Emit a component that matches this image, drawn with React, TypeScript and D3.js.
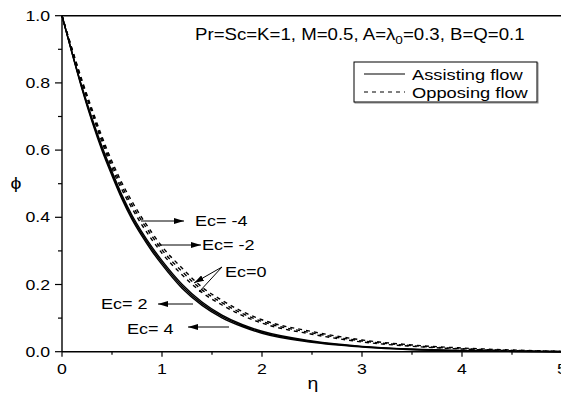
import React from "react";
import * as d3 from "d3";

// similarity variable grid
const eta = [0, 0.1, 0.2, 0.3, 0.4, 0.5, 0.6, 0.7, 0.8, 0.9, 1.0, 1.2, 1.4, 1.6, 1.8, 2.0, 2.5, 3.0, 3.5, 4.0, 4.5, 5.0];

// assisting flow (solid)
const assistEc0 = [1, 0.891, 0.788, 0.695, 0.611, 0.536, 0.466, 0.406, 0.356, 0.311, 0.271, 0.201, 0.148, 0.109, 0.081, 0.061, 0.032, 0.016, 0.008, 0.0035, 0.0012, 0];
const assistEc2 = [1, 0.89, 0.785, 0.69, 0.605, 0.53, 0.46, 0.4, 0.35, 0.305, 0.265, 0.195, 0.143, 0.105, 0.078, 0.058, 0.03, 0.015, 0.007, 0.003, 0.001, 0];
const assistEc4 = [1, 0.889, 0.782, 0.685, 0.599, 0.524, 0.454, 0.394, 0.344, 0.299, 0.259, 0.189, 0.138, 0.101, 0.075, 0.055, 0.028, 0.014, 0.006, 0.0025, 0.0008, 0];

// opposing flow (dashed)
const opposeEc0 = [1, 0.898, 0.8, 0.71, 0.624, 0.546, 0.482, 0.427, 0.377, 0.333, 0.293, 0.229, 0.176, 0.139, 0.108, 0.085, 0.052, 0.029, 0.016, 0.008, 0.003, 0.001];
const opposeEcM2 = [1, 0.9, 0.804, 0.716, 0.632, 0.556, 0.492, 0.437, 0.388, 0.344, 0.303, 0.239, 0.184, 0.146, 0.114, 0.09, 0.056, 0.032, 0.018, 0.009, 0.004, 0.001];
const opposeEcM4 = [1, 0.902, 0.808, 0.722, 0.64, 0.566, 0.502, 0.447, 0.398, 0.354, 0.313, 0.249, 0.192, 0.153, 0.12, 0.095, 0.06, 0.035, 0.02, 0.011, 0.005, 0.0015];

const xTicks = [0, 1, 2, 3, 4, 5];
const xMinor = [0.5, 1.5, 2.5, 3.5, 4.5];
const yTicks = [0, 0.2, 0.4, 0.6, 0.8, 1.0];
const yMinor = [0.1, 0.3, 0.5, 0.7, 0.9];

const W = 561;
const H = 396;
const FONT = "'Liberation Sans', Arial, sans-serif";

export default function App() {
  const x = d3.scaleLinear().domain([0, 5]).range([62, 562]);
  const y = d3.scaleLinear().domain([0, 1]).range([351.7, 15.7]);

  const line = d3
    .line<number>()
    .x((_, i) => x(eta[i]))
    .y((d) => y(d))
    .curve(d3.curveMonotoneX);

  const solid = [assistEc0, assistEc2, assistEc4];
  const dashed = [opposeEc0, opposeEcM2, opposeEcM4];

  const sx = 1.18; // horizontal stretch of the lettering

  const label = (tx: number, ty: number, content: React.ReactNode, size = 15, anchor: "start" | "end" | "middle" = "start") => (
    <g transform={`translate(${tx},${ty}) scale(${sx},1)`}>
      <text x={0} y={0} fontSize={size} fontFamily={FONT} textAnchor={anchor} fill="#000">
        {content}
      </text>
    </g>
  );

  return (
    <svg width={W} height={H} style={{ position: "absolute", left: 0, top: 0, background: "#fff" }}>
      <defs>
        <marker id="ah" viewBox="0 0 10 6" refX="10" refY="3" markerWidth="10" markerHeight="6" markerUnits="userSpaceOnUse" orient="auto">
          <path d="M0,0 L10,3 L0,6 Z" fill="#000" />
        </marker>
      </defs>
      <rect x={0} y={0} width={W} height={H} fill="#fff" />

      {/* curves */}
      {solid.map((s, i) => (
        <path key={`s${i}`} d={line(s) || ""} fill="none" stroke="#000" strokeWidth={1.4} />
      ))}
      {dashed.map((s, i) => (
        <path key={`d${i}`} d={line(s) || ""} fill="none" stroke="#000" strokeWidth={1.4} strokeDasharray="4,4" />
      ))}

      {/* frame */}
      <line x1={x(0)} x2={W} y1={y(1)} y2={y(1)} stroke="#000" strokeWidth={1.4} />
      <line x1={x(0)} x2={W} y1={y(0)} y2={y(0)} stroke="#000" strokeWidth={1.4} />
      <line x1={x(0)} x2={x(0)} y1={y(1)} y2={y(0)} stroke="#000" strokeWidth={1.4} />

      {/* y ticks */}
      {yTicks.map((t) => (
        <g key={`yt${t}`}>
          <line x1={x(0) - 7} x2={x(0)} y1={y(t)} y2={y(t)} stroke="#000" strokeWidth={1.2} />
          {label(50, y(t) + 5, t.toFixed(1), 15, "end")}
        </g>
      ))}
      {yMinor.map((t) => (
        <line key={`ym${t}`} x1={x(0) - 4} x2={x(0)} y1={y(t)} y2={y(t)} stroke="#000" strokeWidth={1.2} />
      ))}

      {/* x ticks */}
      {xTicks.map((t) => (
        <g key={`xt${t}`}>
          <line x1={x(t)} x2={x(t)} y1={y(0)} y2={y(0) + 5} stroke="#000" strokeWidth={1.2} />
          {label(x(t), 374, String(t), 15, "middle")}
        </g>
      ))}
      {xMinor.map((t) => (
        <line key={`xm${t}`} x1={x(t)} x2={x(t)} y1={y(0)} y2={y(0) + 3} stroke="#000" strokeWidth={1.2} />
      ))}

      {/* axis titles */}
      {label(313, 389, "η", 16.5, "middle")}
      {label(16, 189, "ϕ", 16.5, "middle")}

      {/* parameters */}
      {label(195, 40, (
        <>
          Pr=Sc=K=1, M=0.5, A=λ<tspan fontSize={11.5} dy={4}>0</tspan>
          <tspan dy={-4}>=0.3, B=Q=0.1</tspan>
        </>
      ), 15.8)}

      {/* legend */}
      <rect x={355} y={63} width={183} height={40} fill="none" stroke="#888" strokeWidth={1} />
      <rect x={354} y={62} width={183} height={40} fill="#fff" stroke="#000" strokeWidth={1} />
      <line x1={364} x2={405} y1={74} y2={74} stroke="#000" strokeWidth={1.2} />
      <line x1={364} x2={405} y1={92} y2={92} stroke="#000" strokeWidth={1.2} strokeDasharray="4,4" />
      {label(412, 80, "Assisting flow", 15.5)}
      {label(412, 98, "Opposing flow", 15.5)}

      {/* Ec annotations */}
      <line x1={141} x2={184} y1={221} y2={221} stroke="#000" strokeWidth={1} markerEnd="url(#ah)" />
      {label(195, 226, "Ec= -4", 15.3)}
      <line x1={157} x2={201} y1={245} y2={245} stroke="#000" strokeWidth={1} markerEnd="url(#ah)" />
      {label(202, 250, "Ec= -2", 15.3)}
      <line x1={222} x2={194} y1={267} y2={283} stroke="#000" strokeWidth={1} markerEnd="url(#ah)" />
      <line x1={222} x2={199} y1={267} y2={292} stroke="#000" strokeWidth={1} />
      {label(225, 277, "Ec=0", 15.3)}
      <line x1={193} x2={158} y1={304} y2={304} stroke="#000" strokeWidth={1} markerEnd="url(#ah)" />
      {label(101, 309, "Ec= 2", 15.3)}
      <line x1={229} x2={188} y1={327} y2={327} stroke="#000" strokeWidth={1} markerEnd="url(#ah)" />
      {label(127, 334, "Ec= 4", 15.3)}
    </svg>
  );
}
